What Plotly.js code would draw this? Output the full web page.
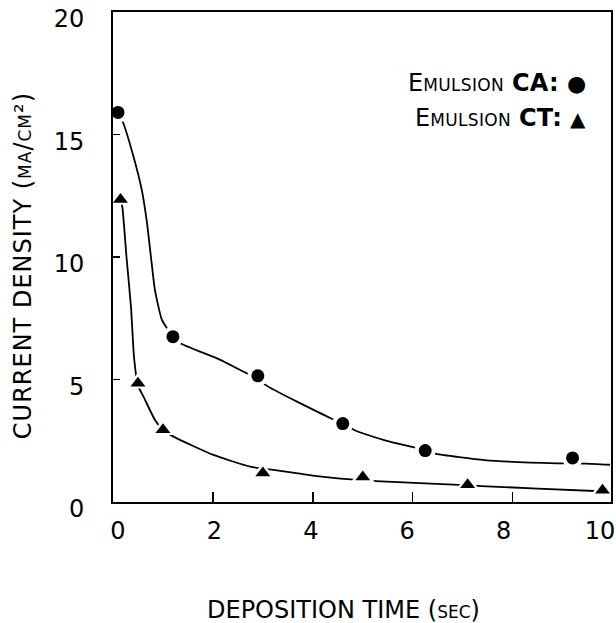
<!DOCTYPE html>
<html>
<head>
<meta charset="utf-8">
<script src="https://cdn.plot.ly/plotly-3.0.1.min.js"></script>
<style>
html,body{margin:0;padding:0;background:#fff;}
.annotation[data-index="0"] text { letter-spacing: 1px; }
.annotation[data-index="2"] text, .annotation[data-index="3"] text { letter-spacing: 0.3px; }
</style>
</head>
<body>
<div id="chart" style="width:616px;height:623px;"></div>
<script>
// Measured points
const caTime = [0.1, 1.2, 2.9, 4.6, 6.25, 9.2];
const caDensity = [15.9, 6.75, 5.15, 3.2, 2.1, 1.8];
const ctTime = [0.15, 0.5, 1.0, 3.0, 5.0, 7.1, 9.8];
const ctDensity = [12.35, 4.85, 2.95, 1.18, 1.02, 0.7, 0.48];

// Hand-drawn fitted curves
const caCurveTime = [0.1, 0.21, 0.41, 0.58, 0.68, 0.76, 0.84, 0.98, 1.2, 1.35, 2.15, 2.68, 2.91, 3.05, 4.36, 4.62, 4.83, 5.43, 6.1, 6.25, 6.47, 7.44, 8.88, 9.45, 9.95];
const caCurveDensity = [15.9, 15.44, 14.1, 12.7, 11.4, 10.0, 8.65, 7.43, 6.75, 6.48, 5.8, 5.25, 5.1, 4.78, 3.42, 3.2, 2.94, 2.53, 2.19, 2.1, 1.96, 1.71, 1.58, 1.57, 1.52];
const ctCurveTime = [0.15, 0.19, 0.27, 0.36, 0.42, 0.5, 0.61, 0.84, 1.0, 1.21, 2.01, 2.75, 3.25, 4.0, 4.76, 5.26, 7.03, 7.37, 9.64, 9.8];
const ctCurveDensity = [12.4, 12.0, 10.0, 7.97, 5.93, 4.75, 4.3, 3.35, 2.95, 2.67, 1.92, 1.44, 1.3, 1.08, 0.92, 0.85, 0.69, 0.65, 0.45, 0.44];

// Tick labels
const xTicks = [0, 2, 4, 6, 8, 10];
const yTicks = [0, 5, 10, 15, 20];

const FONT = "'DejaVu Sans', sans-serif";

const traces = [
  {x: caCurveTime, y: caCurveDensity, mode: 'lines', line: {color: '#000', width: 1.8, shape: 'spline', smoothing: 0.5}, hoverinfo: 'skip'},
  {x: ctCurveTime, y: ctCurveDensity, mode: 'lines', line: {color: '#000', width: 1.8, shape: 'spline', smoothing: 0.5}, hoverinfo: 'skip'},
  {x: caTime, y: caDensity, mode: 'markers', marker: {symbol: 'circle', size: 21, color: '#fff'}, hoverinfo: 'skip'},
  {x: ctTime, y: ctDensity, mode: 'markers', marker: {symbol: 'triangle-up', size: 21, color: '#fff'}, hoverinfo: 'skip'},
  {x: caTime, y: caDensity, mode: 'markers', name: 'Emulsion CA', marker: {symbol: 'circle', size: 13, color: '#000'}},
  {x: ctTime, y: ctDensity, mode: 'markers', name: 'Emulsion CT', marker: {symbol: 'triangle-up', size: 13, color: '#000'}},
  // invisible trace carrying the label-only secondary x axis
  {x: xTicks, y: xTicks.map(() => null), xaxis: 'x2', mode: 'markers', hoverinfo: 'skip', showlegend: false}
];

const layout = {
  width: 616, height: 623,
  margin: {l: 113, r: 5, t: 12, b: 121},
  paper_bgcolor: '#fff', plot_bgcolor: '#fff',
  showlegend: false,
  font: {family: FONT, color: '#000', size: 24},
  xaxis: {
    range: [0, 9.97], tickvals: xTicks, showticklabels: false,
    ticks: 'inside', ticklen: 10, tickwidth: 1.5, tickcolor: '#000',
    showline: true, linecolor: '#000', linewidth: 2, mirror: true,
    showgrid: false, zeroline: false
  },
  xaxis2: {
    overlaying: 'x', side: 'bottom', range: [-0.104, 10.23],
    tickvals: xTicks, ticktext: xTicks.map(String), ticks: '',
    showline: false, showgrid: false, zeroline: false,
    ticklabelstandoff: 12, ticklabeloverflow: 'allow',
    tickfont: {family: FONT, size: 24}
  },
  yaxis: {
    range: [0, 20], tickvals: yTicks, ticktext: yTicks.map(String),
    ticks: 'inside', ticklen: 7, tickwidth: 1.5, tickcolor: '#000',
    showline: true, linecolor: '#000', linewidth: 2, mirror: true,
    showgrid: false, zeroline: false, ticklabelstandoff: 22, ticklabelshift: 7,
    ticklabeloverflow: 'allow',
    tickfont: {family: FONT, size: 24}
  },
  annotations: [
    {xref: 'paper', yref: 'paper', x: -0.182, y: 0.482, textangle: -90, showarrow: false,
     xanchor: 'center', yanchor: 'middle',
     text: "CURRENT DENSITY (ma/cm²)", font: {family: FONT, size: 24, variant: 'small-caps'}},
    {xref: 'paper', yref: 'paper', x: 0.463, y: -0.22, showarrow: false,
     xanchor: 'center', yanchor: 'middle',
     text: "DEPOSITION TIME (sec)", font: {family: FONT, size: 24, variant: 'small-caps'}},
    {xref: 'paper', yref: 'paper', x: 0.95, y: 0.855, showarrow: false,
     xanchor: 'right', yanchor: 'middle',
     text: "Emulsion <b>CA:</b> <span style='font-size:22px'>●</span>", font: {family: FONT, size: 24, variant: 'small-caps'}},
    {xref: 'paper', yref: 'paper', x: 0.95, y: 0.784, showarrow: false,
     xanchor: 'right', yanchor: 'middle',
     text: "Emulsion <b>CT:</b> <span style='font-size:20px'>▲</span>", font: {family: FONT, size: 24, variant: 'small-caps'}}
  ]
};

Plotly.newPlot('chart', traces, layout, {staticPlot: true, displayModeBar: false});
</script>
</body>
</html>
